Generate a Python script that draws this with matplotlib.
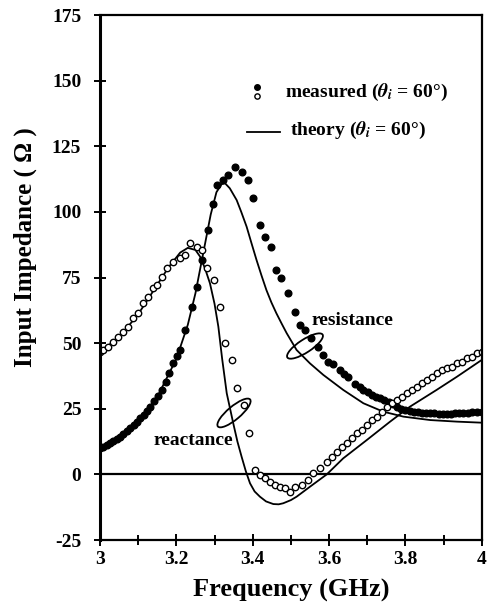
import matplotlib.pyplot as plt
import matplotlib.transforms as mtransforms
from matplotlib.patches import Ellipse

# Measured resistance (filled circles)
res_f = [3.000, 3.009, 3.018, 3.026, 3.035, 3.044, 3.052, 3.061, 3.070, 3.079,
         3.088, 3.096, 3.105, 3.114, 3.122, 3.131, 3.142, 3.152, 3.162, 3.172,
         3.182, 3.192, 3.201, 3.210, 3.223, 3.240, 3.253, 3.266, 3.284, 3.295,
         3.306, 3.323, 3.336, 3.354, 3.371, 3.389, 3.402, 3.419, 3.432, 3.449,
         3.462, 3.475, 3.493, 3.510, 3.523, 3.537, 3.554, 3.571, 3.585, 3.598,
         3.611, 3.628, 3.640, 3.650, 3.668, 3.680, 3.690, 3.701, 3.712, 3.723,
         3.734, 3.745, 3.756, 3.767, 3.778, 3.789, 3.800, 3.811, 3.822, 3.833,
         3.844, 3.855, 3.865, 3.876, 3.887, 3.898, 3.908, 3.919, 3.930, 3.941,
         3.952, 3.963, 3.975, 3.987, 4.000]
res_meas = [9.9, 10.5, 11.2, 11.8, 12.6, 13.5, 14.4, 15.4, 16.5, 17.6,
            18.8, 20.0, 21.4, 22.8, 24.1, 25.5, 27.8, 29.9, 32.2, 35.2,
            38.6, 42.3, 45.0, 47.4, 55.0, 63.9, 71.5, 81.7, 93.1, 103.0,
            110.2, 112.1, 114.0, 117.2, 115.3, 112.1, 105.2, 95.0, 90.3, 86.7,
            77.9, 74.7, 69.0, 62.0, 56.9, 55.0, 51.8, 48.6, 45.5, 42.9,
            42.0, 39.8, 38.2, 37.2, 34.4, 33.3, 32.2, 31.2, 30.2, 29.6,
            29.0, 28.4, 27.7, 26.8, 25.8, 25.1, 24.5, 24.2, 23.9, 23.7,
            23.5, 23.4, 23.3, 23.2, 23.1, 23.0, 23.0, 23.1, 23.2, 23.2,
            23.3, 23.5, 23.7, 23.9, 23.9]

# Measured reactance (open circles)
rea_f = [3.000, 3.009, 3.022, 3.035, 3.048, 3.061, 3.074, 3.087, 3.100, 3.113,
         3.127, 3.140, 3.148, 3.162, 3.175, 3.192, 3.210, 3.223, 3.236, 3.253,
         3.266, 3.281, 3.299, 3.314, 3.327, 3.345, 3.358, 3.376, 3.391, 3.406,
         3.419, 3.432, 3.445, 3.458, 3.472, 3.485, 3.498, 3.510, 3.528, 3.546,
         3.559, 3.576, 3.594, 3.607, 3.620, 3.633, 3.646, 3.659, 3.672, 3.686,
         3.699, 3.712, 3.725, 3.738, 3.751, 3.764, 3.777, 3.790, 3.804, 3.817,
         3.830, 3.843, 3.856, 3.869, 3.882, 3.895, 3.908, 3.921, 3.935, 3.948,
         3.961, 3.974, 3.987, 4.000]
rea_meas = [46.8, 47.4, 48.7, 50.6, 52.5, 54.4, 56.3, 59.5, 61.4, 65.2,
            67.7, 70.9, 72.2, 75.3, 78.5, 81.0, 82.3, 83.6, 88.0, 86.7,
            85.5, 78.5, 74.0, 63.9, 50.2, 43.6, 32.8, 26.4, 15.7, 1.7,
            -0.2, -1.5, -2.8, -4.0, -4.7, -5.3, -6.6, -4.7, -4.0, -2.1,
            0.4, 2.3, 4.8, 6.7, 8.6, 10.6, 11.8, 13.8, 15.7, 16.9,
            18.8, 20.7, 22.0, 23.9, 25.8, 27.1, 28.3, 29.6, 30.9, 32.2,
            33.4, 34.7, 36.0, 37.2, 38.5, 39.8, 40.4, 41.0, 42.3, 42.9,
            44.2, 44.8, 46.1, 46.7]

# Theory curves
res_th_f = [3.00, 3.05, 3.10, 3.15, 3.20, 3.23, 3.25, 3.27, 3.29, 3.305,
            3.318, 3.327, 3.34, 3.358, 3.37, 3.384, 3.397, 3.41, 3.423, 3.436,
            3.449, 3.462, 3.476, 3.489, 3.515, 3.55, 3.585, 3.637, 3.69, 3.742,
            3.795, 3.865, 3.935, 4.00]
res_th = [9.0, 13.5, 20.0, 29.5, 44.0, 57.0, 69.0, 84.0, 99.0, 107.5,
          110.5, 111.0, 109.0, 104.5, 100.0, 94.4, 88.0, 81.7, 75.8, 70.2,
          65.5, 61.4, 57.4, 53.8, 47.4, 42.3, 37.9, 32.2, 27.1, 23.9,
          22.0, 20.7, 20.1, 19.7]

rea_th_f = [3.00, 3.03, 3.06, 3.10, 3.14, 3.18, 3.21, 3.23, 3.25, 3.262,
            3.275, 3.288, 3.30, 3.31, 3.32, 3.332, 3.349, 3.36, 3.371, 3.382,
            3.393, 3.405, 3.419, 3.435, 3.454, 3.468, 3.48, 3.50, 3.515, 3.55,
            3.594, 3.637, 3.699, 3.76, 3.812, 3.882, 3.935, 4.00]
rea_th = [47.0, 50.0, 54.0, 61.0, 70.0, 79.0, 84.5, 86.3, 85.5, 83.0,
          78.5, 72.8, 65.0, 56.3, 44.0, 30.9, 19.5, 12.5, 6.7, 1.2,
          -3.4, -6.5, -8.5, -10.3, -11.3, -11.4, -11.0, -9.8, -8.5, -4.7,
          0.0, 6.1, 13.1, 20.1, 25.8, 32.2, 37.2, 43.6]

x_ticks = [3, 3.2, 3.4, 3.6, 3.8, 4]
x_tick_labels = ['3', '3.2', '3.4', '3.6', '3.8', '4']
y_ticks = [-25, 0, 25, 50, 75, 100, 125, 150, 175]

plt.rcParams['font.family'] = ['Liberation Serif', 'DejaVu Serif']
plt.rcParams['font.weight'] = 'bold'
plt.rcParams['mathtext.fontset'] = 'stix'
plt.rcParams['axes.unicode_minus'] = False

fig = plt.figure(figsize=(4.91, 6.14), dpi=100)
ax = fig.add_axes([0.2037, 0.1205, 0.7774, 0.855])

ax.axhline(0, color='black', lw=1.6)

ax.plot(res_th_f, res_th, color='black', lw=1.3)
ax.plot(rea_th_f, rea_th, color='black', lw=1.3)
ax.plot(res_f, res_meas, 'o', ms=4.8, color='black', mec='black')
ax.plot(rea_f, rea_meas, 'o', ms=4.6, mfc='white', mec='black', mew=1.0)

ax.set_xlim(3, 4)
ax.set_ylim(-25, 175)
ax.set_xticks(x_ticks, labels=x_tick_labels)
ax.set_xticks([3.1, 3.3, 3.5, 3.7, 3.9], minor=True)
ax.set_yticks(y_ticks)
ax.tick_params(axis='both', which='both', direction='inout', length=9, width=1.4,
               labelsize=14)
ax.tick_params(axis='y', pad=9)
ax.tick_params(axis='x', which='minor', length=7)
for lab in ax.get_xticklabels() + ax.get_yticklabels():
    lab.set_fontweight('bold')
for sp in ax.spines.values():
    sp.set_linewidth(1.6)
ax.spines['left'].set_linewidth(2.2)

ax.set_xlabel('Frequency (GHz)', fontsize=19, fontweight='bold', labelpad=8)
ax.set_ylabel('Input Impedance ( \u03a9 )', fontsize=18, fontweight='bold')
ax.yaxis.set_label_coords(-0.165, 0.558)

# legend drawn by hand
ax.plot([0.41], [0.862], 'o', ms=4.0, color='black', transform=ax.transAxes, clip_on=False)
ax.plot([0.41], [0.845], 'o', ms=3.8, mfc='white', mec='black', mew=1.0,
        transform=ax.transAxes, clip_on=False)
ax.text(0.485, 0.853, r'measured ($\theta_i$ = 60°)', transform=ax.transAxes,
        fontsize=14, fontweight='bold', va='center', ha='left')
ax.plot([0.384, 0.472], [0.778, 0.778], color='black', lw=1.3, transform=ax.transAxes)
ax.text(0.498, 0.781, r'theory ($\theta_i$ = 60°)', transform=ax.transAxes,
        fontsize=14, fontweight='bold', va='center', ha='left')

# annotation ellipses (sized in inches around a data point)
def ring(f, v, w, h, ang):
    tr = fig.dpi_scale_trans + mtransforms.ScaledTranslation(f, v, ax.transData)
    ax.add_patch(Ellipse((0, 0), w, h, angle=ang, fill=False, lw=1.3,
                         ec='black', transform=tr, clip_on=False))

ring(3.537, 48.9, 0.42, 0.13, 33)
ring(3.351, 23.4, 0.42, 0.13, 40)

ax.text(3.555, 58.8, 'resistance', fontsize=14, fontweight='bold', va='center', ha='left')
ax.text(3.349, 13.1, 'reactance', fontsize=14, fontweight='bold', va='center', ha='right')

fig.savefig('out.png', dpi=100)
